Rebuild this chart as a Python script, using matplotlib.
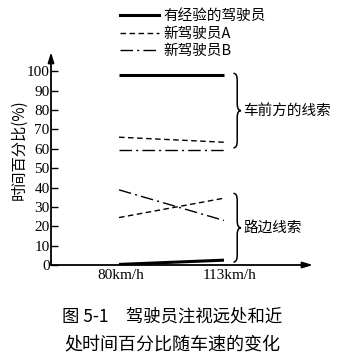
import matplotlib
matplotlib.use("Agg")
import matplotlib.pyplot as plt
from matplotlib.path import Path
from matplotlib.patches import PathPatch
from matplotlib.lines import Line2D
from matplotlib.transforms import ScaledTranslation

plt.rcParams['font.family'] = ['Noto Sans CJK SC', 'DejaVu Sans']

# ---- data ----
speeds = ["80km/h", "113km/h"]
series_names = ["有经验的驾驶员", "新驾驶员A", "新驾驶员B"]
front_exp = [98, 98]
road_exp = [0.3, 2.5]
front_a = [66, 63.4]
road_a = [24.5, 34.5]
front_b = [59.2, 59.2]
road_b = [38.8, 23]
yticks = [0, 10, 20, 30, 40, 50, 60, 70, 80, 90, 100]
ylabel = "时间百分比(%)"
group_labels = ["车前方的线索", "路边线索"]
caption = ["图 5-1　驾驶员注视远处和近", "处时间百分比随车速的变化"]

W, H = 355, 363
fig = plt.figure(figsize=(W / 100, H / 100), dpi=100)
ax = fig.add_axes([51 / W, 1 - 265 / H, (313 - 51) / W, (265 - 52) / H])

xpos = [0, 1]
ax.set_xlim(-0.648, 1.848)
ax.set_ylim(0, 110)

styles = [
    dict(color='black', lw=2.2, linestyle='-'),
    dict(color='black', lw=1.0, linestyle=(0, (4, 2.5))),
    dict(color='black', lw=1.0, linestyle=(0, (9, 3, 1.5, 3))),
]
ax.plot(xpos, front_exp, **styles[0], label=series_names[0], solid_capstyle='butt')
ax.plot(xpos, road_exp, **styles[0], solid_capstyle='butt')
ax.plot(xpos, front_a, **styles[1], label=series_names[1])
ax.plot(xpos, road_a, **styles[1])
ax.plot(xpos, front_b, **styles[2], label=series_names[2])
ax.plot(xpos, road_b, **styles[2])

for s in ax.spines.values():
    s.set_visible(False)

# axis arrows
ax.annotate('', xy=(0, 1), xytext=(0, 0), xycoords='axes fraction',
            arrowprops=dict(arrowstyle='-|>,head_length=0.6,head_width=0.18',
                            color='black', lw=1.3, shrinkA=0, shrinkB=0))
ax.annotate('', xy=(1, 0), xytext=(0, 0), xycoords='axes fraction',
            arrowprops=dict(arrowstyle='-|>,head_length=0.6,head_width=0.18',
                            color='black', lw=1.3, shrinkA=0, shrinkB=0))

ax.set_yticks(yticks)
ax.set_yticklabels([str(v) for v in yticks], family='Liberation Serif', fontsize=11)
ax.tick_params(axis='y', direction='in', length=5, width=1, pad=1)
ax.set_xticks(xpos)
ax.set_xticklabels(speeds, family='Liberation Serif', fontsize=11)
ax.tick_params(axis='x', length=0, pad=3)
lbls = ax.get_xticklabels()
lbls[0].set_transform(lbls[0].get_transform() + ScaledTranslation(2 / 100, 0, fig.dpi_scale_trans))
lbls[1].set_transform(lbls[1].get_transform() + ScaledTranslation(6 / 100, 0, fig.dpi_scale_trans))

fig.text(19 / W, 1 - 150 / H, ylabel, rotation=90, ha='center', va='center', fontsize=11)


def brace(ax, x, y_top, y_bot, w=0.036, r=3.5):
    # vertical curly brace opening left, tip pointing right
    ym = (y_top + y_bot) / 2
    x0, x1, x2 = x, x + w, x + 2 * w
    verts = [
        (x0, y_top), (x1, y_top), (x1, y_top - r),
        (x1, ym + r),
        (x1, ym), (x2, ym),
        (x1, ym), (x1, ym - r),
        (x1, y_bot + r),
        (x1, y_bot), (x0, y_bot),
    ]
    codes = [Path.MOVETO, Path.CURVE3, Path.CURVE3, Path.LINETO,
             Path.CURVE3, Path.CURVE3, Path.CURVE3, Path.CURVE3,
             Path.LINETO, Path.CURVE3, Path.CURVE3]
    ax.add_patch(PathPatch(Path(verts, codes), fill=False, lw=1.1,
                           color='black', clip_on=False))
    return x2, ym


bx, bym = brace(ax, 1.09, 99, 60.5)
ax.text(bx + 0.02, bym, group_labels[0], ha='left', va='center', fontsize=10.5)
bx, bym = brace(ax, 1.09, 37, 1.5)
ax.text(bx + 0.02, bym, group_labels[1], ha='left', va='center', fontsize=10.5)

handles = [Line2D([], [], **st) for st in styles]
fig.legend(handles, series_names, loc='upper left',
           bbox_to_anchor=(120 / W, 1 - 9 / H), frameon=False,
           borderpad=0, borderaxespad=0, handlelength=2.7,
           handletextpad=0.3, labelspacing=0.25, fontsize=10.5)

fig.text(172 / W, 1 - 316 / H, caption[0], ha='center', va='center', fontsize=12.5)
fig.text(172 / W, 1 - 345 / H, caption[1], ha='center', va='center', fontsize=13)

fig.savefig("out.png", dpi=100)
